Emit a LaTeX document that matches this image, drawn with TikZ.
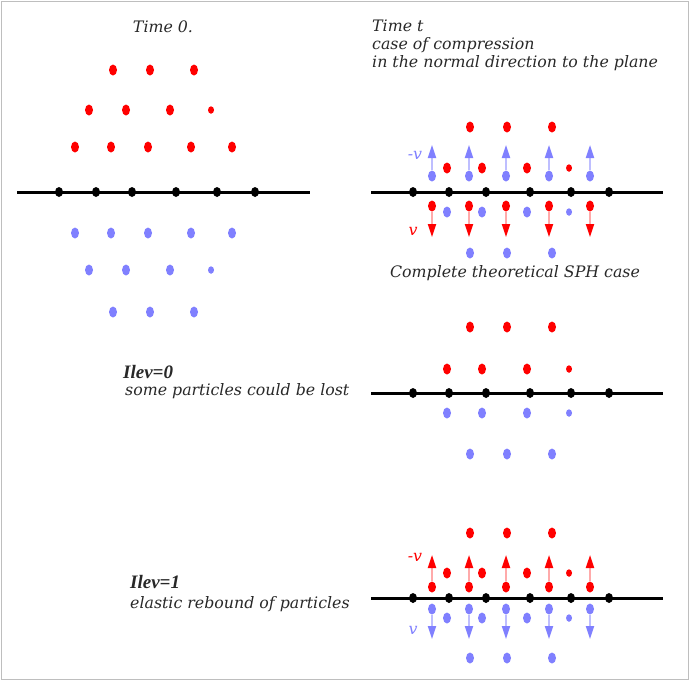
\documentclass[tikz,border=0pt]{standalone}
\usepackage{fontspec}
\setmainfont{DejaVu Serif}
\newfontfamily\ilevfont{Liberation Serif}
\usetikzlibrary{arrows.meta,shapes.geometric}
\definecolor{dotred}{RGB}{255,0,0}
\definecolor{dotblue}{RGB}{128,128,255}
\definecolor{shaftred}{RGB}{255,170,170}
\definecolor{shaftblue}{RGB}{190,190,255}
\definecolor{txt}{RGB}{40,40,40}
\definecolor{framegray}{RGB}{190,190,190}
\begin{document}
\begin{tikzpicture}[x=1pt,y=-1pt,
  rdot/.style={ellipse,fill=dotred,inner sep=0pt,minimum width=8pt,minimum height=11pt},
  bdot/.style={rdot,fill=dotblue},
  small/.style={minimum width=6pt,minimum height=7.5pt},
  kdot/.style={ellipse,fill=black,inner sep=0pt,minimum width=8pt,minimum height=10pt},
  plane/.style={line width=3pt},
  rarrow/.style={shaftred,line width=1.8pt,-{Triangle[length=13pt,width=8pt,color=dotred]}},
  barrow/.style={shaftblue,line width=1.8pt,-{Triangle[length=13pt,width=8pt,color=dotblue]}},
  lbl/.style={font=\fontsize{15.8}{18}\selectfont\itshape,text=txt,inner sep=0pt},
  ilev/.style={font=\fontsize{19}{20}\selectfont\ilevfont\itshape\bfseries,text=txt,inner sep=0pt}]
\useasboundingbox (0,0) rectangle (690,681);
\draw[framegray,line width=1.2pt] (1.5,1.5) rectangle (688.5,679.5);
% time 0
\node[lbl] (time0) at (163,27) {Time 0.};
\coordinate (p1a) at (17,192); \coordinate (p1b) at (310,192);
\draw[plane] (p1a) -- (p1b);
\foreach \x [count=\i] in {59,96,132,176,217,255} \node[kdot] (k1\i) at (\x,192) {};
\foreach \x [count=\i] in {113,150,194} {\node[rdot] (r1a\i) at (\x,70) {}; \node[bdot] (b1a\i) at (\x,312) {};}
\foreach \x [count=\i] in {89,126,170} {\node[rdot] (r1b\i) at (\x,110) {}; \node[bdot] (b1b\i) at (\x,270) {};}
\node[rdot,small] (r1b4) at (211,110) {}; \node[bdot,small] (b1b4) at (211,270) {};
\foreach \x [count=\i] in {75,111,148,191,232} {\node[rdot] (r1c\i) at (\x,147) {}; \node[bdot] (b1c\i) at (\x,233) {};}
% the three planes on the right
\foreach \y/\p in {192/2,393/3,598/4} {
  \coordinate (p\p a) at (371,\y); \coordinate (p\p b) at (663,\y);
  \draw[plane] (p\p a) -- (p\p b);
  \foreach \x [count=\i] in {413,449,486,530,571,609} \node[kdot] (k\p\i) at (\x,\y) {};
}
% time t
\node[lbl,anchor=north west,align=left] (timet) at (372,20) {Time t\\case of compression\\in the normal direction to the plane};
\foreach \x [count=\i] in {470,507,552} {\node[rdot] (r2a\i) at (\x,127) {}; \node[bdot] (b2a\i) at (\x,253) {};}
\foreach \x [count=\i] in {447,482,527} {\node[rdot] (r2b\i) at (\x,168) {}; \node[bdot] (b2b\i) at (\x,212) {};}
\node[rdot,small] (r2b4) at (569,168) {}; \node[bdot,small] (b2b4) at (569,212) {};
\foreach \x [count=\i] in {432,469,506,549,590} {
  \node[bdot] (b2c\i) at (\x,176) {};
  \coordinate (u2\i) at (\x,145);
  \draw[barrow] (b2c\i) -- (u2\i);
  \node[rdot] (r2c\i) at (\x,206) {};
  \coordinate (d2\i) at (\x,237);
  \draw[rarrow] (r2c\i) -- (d2\i);
}
\node[lbl,text=dotblue] (mv2) at (415,155) {-v};
\node[lbl,text=dotred] (v2) at (413,231) {v};
\node[lbl] (sph) at (515,273) {Complete theoretical SPH case};
% ilev=0
\node[ilev,anchor=west] (ilev0) at (123,372) {Ilev=0};
\node[lbl,anchor=west] (lost) at (125,391) {some particles could be lost};
\foreach \x [count=\i] in {470,507,552} {\node[rdot] (r3a\i) at (\x,327) {}; \node[bdot] (b3a\i) at (\x,454) {};}
\foreach \x [count=\i] in {447,482,527} {\node[rdot] (r3b\i) at (\x,369) {}; \node[bdot] (b3b\i) at (\x,413) {};}
\node[rdot,small] (r3b4) at (569,369) {}; \node[bdot,small] (b3b4) at (569,413) {};
% ilev=1
\node[ilev,anchor=west] (ilev1) at (130,582) {Ilev=1};
\node[lbl,anchor=west] (rebound) at (130,604) {elastic rebound of particles};
\foreach \x [count=\i] in {470,507,552} {\node[rdot] (r4a\i) at (\x,533) {}; \node[bdot] (b4a\i) at (\x,658) {};}
\foreach \x [count=\i] in {447,482,527} {\node[rdot] (r4b\i) at (\x,573) {}; \node[bdot] (b4b\i) at (\x,618) {};}
\node[rdot,small] (r4b4) at (569,573) {}; \node[bdot,small] (b4b4) at (569,618) {};
\foreach \x [count=\i] in {432,469,506,549,590} {
  \node[rdot] (r4c\i) at (\x,587) {};
  \coordinate (u4\i) at (\x,555);
  \draw[rarrow] (r4c\i) -- (u4\i);
  \node[bdot] (b4c\i) at (\x,609) {};
  \coordinate (d4\i) at (\x,639);
  \draw[barrow] (b4c\i) -- (d4\i);
}
\node[lbl,text=dotred] (mv4) at (415,557) {-v};
\node[lbl,text=dotblue] (v4) at (413,630) {v};
\end{tikzpicture}
\end{document}
